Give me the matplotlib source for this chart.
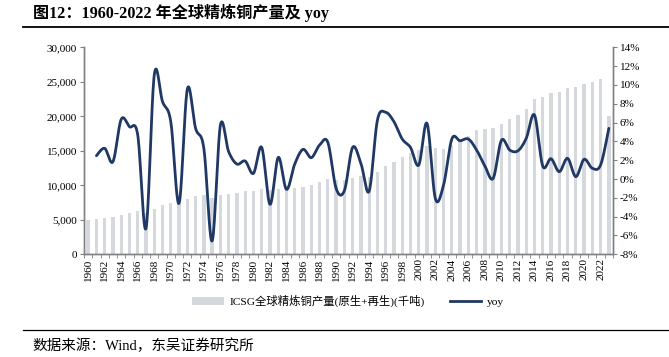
import numpy as np
import matplotlib
matplotlib.use("Agg")
import matplotlib.pyplot as plt
from matplotlib.lines import Line2D
from matplotlib.patches import Patch
from matplotlib.ticker import FuncFormatter, MultipleLocator

years = list(range(1960, 2024))
production = [4940, 5080, 5230, 5370, 5710, 6000, 6290, 5980, 6580, 7160,
              7500, 7350, 8030, 8470, 8660, 8130, 8615, 8810, 8950, 9150,
              9200, 9486, 9250, 9486, 9550, 9583, 9825, 10067, 10454, 10842,
              10800, 10800, 11047, 11290, 11150, 11870, 12740, 13420, 14100, 14680,
              15050, 15650, 15360, 15260, 15900, 16500, 17200, 17975, 18217, 18260,
              18944, 19622, 20155, 21076, 22529, 22820, 23357, 23547, 24080, 24177,
              24661, 24952, 25387, 20107]
yoy_years = list(range(1961, 2024))
yoy = [2.48, 3.26, 1.84, 6.34, 5.56, 4.68, -5.24, 11.05, 8.22, 6.09,
       -2.58, 9.56, 5.39, 3.26, -6.59, 5.70, 2.90, 1.59, 1.91, 0.60,
       3.36, -2.69, 2.30, -1.10, 1.60, 3.15, 2.27, 3.61, 3.90, -0.99,
       -1.24, 3.36, 1.67, -1.28, 6.27, 7.09, 6.09, 4.25, 3.36, 1.49,
       5.91, -2.05, -0.64, 4.25, 4.07, 4.25, 3.08, 1.38, 0.07, 4.11,
       3.08, 3.00, 4.32, 6.80, 1.38, 2.16, 0.78, 2.20, 0.25, 2.09,
       1.14, 1.49, 5.39]

title = "图12：1960-2022 年全球精炼铜产量及 yoy"
source = "数据来源：Wind，东吴证券研究所"
bar_label = "ICSG全球精炼铜产量(原生+再生)(千吨)"
line_label = "yoy"

bar_color = "#d5d9de"
line_color = "#1f3864"
fam = ["Liberation Serif", "Noto Sans CJK SC"]
plt.rcParams["font.family"] = fam

fig = plt.figure(figsize=(6.69, 3.57), dpi=100)
ax = fig.add_axes([84/669, 1-254.3/357, (613-84)/669, (254.3-47.3)/357])
ax2 = ax.twinx()

x = np.arange(len(years))
ax.bar(x, production, width=0.4, color=bar_color, zorder=1)

# Excel-style smoothed line (cubic Bezier through data points)
px = np.array([years.index(y) for y in yoy_years], dtype=float)
py = np.array(yoy, dtype=float)
cx, cy = [], []
n = len(px)
for i in range(n - 1):
    p0x, p0y = (px[i-1], py[i-1]) if i > 0 else (px[i], py[i])
    p3x, p3y = (px[i+2], py[i+2]) if i + 2 < n else (px[i+1], py[i+1])
    c1x = px[i] + (px[i+1] - p0x) / 6
    c1y = py[i] + (py[i+1] - p0y) / 6
    c2x = px[i+1] - (p3x - px[i]) / 6
    c2y = py[i+1] - (p3y - py[i]) / 6
    t = np.linspace(0, 1, 20)
    bx = (1-t)**3*px[i] + 3*(1-t)**2*t*c1x + 3*(1-t)*t**2*c2x + t**3*px[i+1]
    by = (1-t)**3*py[i] + 3*(1-t)**2*t*c1y + 3*(1-t)*t**2*c2y + t**3*py[i+1]
    cx.extend(bx); cy.extend(by)
ax2.plot(cx, cy, color=line_color, lw=2.0, solid_capstyle="round", zorder=3)

ax.set_xlim(-0.5, len(years) - 0.5)
ax.set_ylim(0, 30000)
ax2.set_ylim(-8, 14)
ax.yaxis.set_major_locator(MultipleLocator(5000))
ax.yaxis.set_major_formatter(FuncFormatter(lambda v, p: f"{int(v):,}"))
ax2.yaxis.set_major_locator(MultipleLocator(2))
ax2.yaxis.set_major_formatter(FuncFormatter(lambda v, p: f"{int(round(v))}%"))

ax.set_xticks(x[::2])
ax.set_xticklabels([str(y) for y in years[::2]], rotation=90, fontsize=8)
ax.set_xticks(np.arange(-0.5, len(years), 1), minor=True)
ax.tick_params(axis="x", which="major", length=0, pad=3)
ax.tick_params(axis="x", which="minor", length=3, color="#808080", direction="out")
ax.tick_params(axis="y", labelsize=8, length=3, color="#808080", pad=2)
ax2.tick_params(axis="y", labelsize=8, length=3, color="#808080", pad=2)

for a in (ax, ax2):
    a.spines["top"].set_visible(False)
    for s in ("left", "right", "bottom"):
        a.spines[s].set_color("#808080")
        a.spines[s].set_linewidth(1.0)

handles = [Patch(facecolor=bar_color, edgecolor="none"),
           Line2D([0], [0], color=line_color, lw=2.0)]
fig.legend(handles, [bar_label, line_label], loc="center",
           bbox_to_anchor=(348/669, 1-301/357), ncol=2, frameon=False,
           fontsize=8.2, handlelength=2.8, handleheight=0.6, columnspacing=2.2,
           handletextpad=0.5)

fig.text(33/669, 1-13/357, title, fontsize=11.6, fontweight="bold",
         va="center", ha="left")
fig.add_artist(Line2D([23/669, 1.0], [1-26.5/357, 1-26.5/357], color="black", lw=1.3))
fig.add_artist(Line2D([23/669, 1.0], [1-330/357, 1-330/357], color="black", lw=0.9))
fig.text(32/669, 1-346/357, source, fontsize=10.5, va="center", ha="left")

fig.savefig("out.png", dpi=100)
